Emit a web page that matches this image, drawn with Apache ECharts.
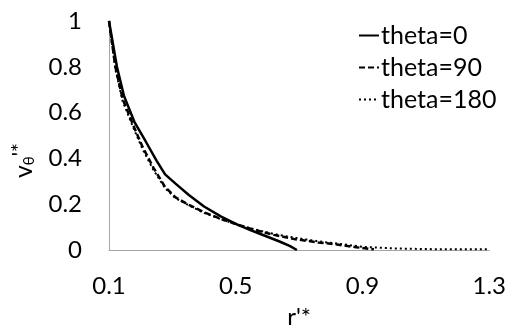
<!DOCTYPE html>
<html>
<head>
<meta charset="utf-8">
<script src="https://cdn.jsdelivr.net/npm/echarts@6/dist/echarts.min.js"></script>
<style>
  html, body {margin: 0; padding: 0; background: #fff;}
  #chart {width: 509px; height: 334px;}
</style>
</head>
<body>
<div id="chart"></div>
<script>
// 横轴刻度
const xTicks = [0.1, 0.5, 0.9, 1.3]

// theta=0
const r0 = [0.1, 0.125, 0.147, 0.18, 0.215, 0.25, 0.277, 0.31, 0.352, 0.4, 0.454, 0.507, 0.55, 0.6, 0.64, 0.67, 0.693]
const v0 = [1, 0.8, 0.674, 0.56, 0.476, 0.39, 0.33, 0.29, 0.24, 0.19, 0.146, 0.11, 0.085, 0.058, 0.036, 0.018, 0]

// theta=90
const r1 = [0.1, 0.12, 0.143, 0.175, 0.206, 0.24, 0.277, 0.31, 0.352, 0.4, 0.454, 0.507, 0.56, 0.62, 0.684, 0.76, 0.82, 0.88, 0.936]
const v1 = [1, 0.8, 0.66, 0.55, 0.45, 0.36, 0.275, 0.23, 0.197, 0.165, 0.135, 0.11, 0.088, 0.066, 0.048, 0.033, 0.024, 0.012, 0.003]

// theta=180
const r2 = [0.1, 0.12, 0.143, 0.175, 0.206, 0.24, 0.277, 0.31, 0.352, 0.4, 0.454, 0.507, 0.56, 0.62, 0.684, 0.76, 0.82, 0.9, 1.0, 1.1, 1.2, 1.3]
const v2 = [1, 0.79, 0.65, 0.54, 0.44, 0.35, 0.27, 0.226, 0.195, 0.162, 0.134, 0.11, 0.09, 0.07, 0.054, 0.038, 0.028, 0.014, 0.007, 0.004, 0.003, 0.003]

const pairs = (xs, ys) => xs.map((x, i) => [x, ys[i]])

const myChart = echarts.init(document.getElementById('chart'))

const font = 'Lato, "Open Sans", sans-serif'

const options = {
  animation: false,
  textStyle: {fontFamily: font, color: '#000'},
  grid: {left: 109, right: 14, top: 21, bottom: 80},
  legend: {
    orient: 'vertical',
    left: 353,
    top: 18,
    itemWidth: 20,
    itemHeight: 14,
    itemGap: 7,
    itemStyle: {color: 'transparent', borderWidth: 0},
    textStyle: {fontSize: 25, fontFamily: font, color: '#000', lineHeight: 25, padding: [0, 0, 0, -3]},
    data: ['theta=0', 'theta=90', 'theta=180'],
  },
  xAxis: {
    type: 'value',
    min: 0.1,
    max: 1.3,
    name: "r'*",
    nameLocation: 'middle',
    nameGap: 55,
    nameTextStyle: {fontSize: 24, fontFamily: font, color: '#000'},
    axisLine: {lineStyle: {color: '#a6a6a6', width: 1}},
    axisTick: {show: false},
    splitLine: {show: false},
    axisLabel: {
      customValues: xTicks,
      fontSize: 24,
      margin: 24,
      color: '#000',
      fontFamily: font,
    },
  },
  yAxis: {
    type: 'value',
    min: 0,
    max: 1,
    interval: 0.2,
    name: "{a|v}{b|θ}{c|'*}",
    nameLocation: 'middle',
    nameRotate: 90,
    nameGap: 72,
    nameTextStyle: {
      padding: [0, 50, 0, 0],
      rich: {
        a: {fontSize: 25, fontFamily: font, color: '#000'},
        b: {fontSize: 15, fontFamily: font, color: '#000', verticalAlign: 'bottom', padding: [12, 0, 0, 0]},
        c: {fontSize: 21, fontFamily: font, color: '#000', verticalAlign: 'top'},
      },
    },
    axisLine: {show: true, lineStyle: {color: '#a6a6a6', width: 1}},
    axisTick: {show: false},
    splitLine: {show: false},
    axisLabel: {fontSize: 24, margin: 27, color: '#000', fontFamily: font},
  },
  series: [
    {
      name: 'theta=0',
      type: 'line',
      symbol: 'none',
      data: pairs(r0, v0),
      itemStyle: {color: '#000'},
      lineStyle: {color: '#000', width: 2.5, type: 'solid'},
    },
    {
      name: 'theta=90',
      type: 'line',
      symbol: 'none',
      data: pairs(r1, v1),
      itemStyle: {color: '#000'},
      lineStyle: {color: '#000', width: 2.5, type: [6, 3]},
    },
    {
      name: 'theta=180',
      type: 'line',
      symbol: 'none',
      data: pairs(r2, v2),
      itemStyle: {color: '#000'},
      lineStyle: {color: '#000', width: 2, type: [2, 3]},
    },
  ],
}

myChart.setOption(options)
</script>
</body>
</html>
